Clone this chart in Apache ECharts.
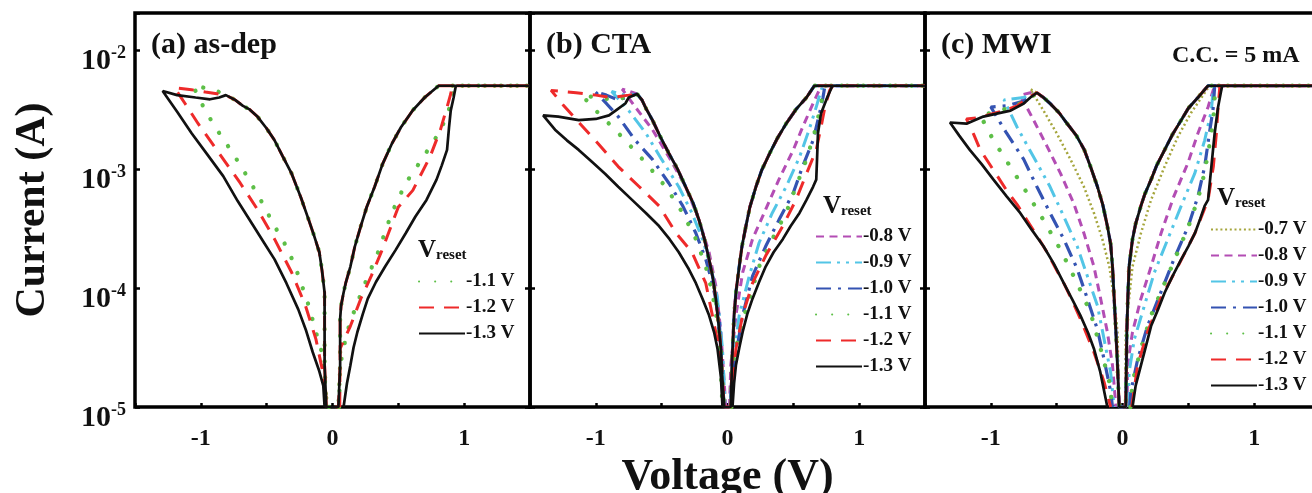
<!DOCTYPE html>
<html>
<head>
<meta charset="utf-8">
<script src="https://cdn.jsdelivr.net/npm/echarts@6/dist/echarts.min.js"></script>
<style>
  html, body { margin: 0; padding: 0; background: #fff; }
  #main { width: 1312px; height: 493px; }
</style>
</head>
<body>
<div id="main"></div>
<script>
// points are [voltage (V), log10 of current (A)]; -2.301 is the 5 mA compliance
var xTicks = [-1, 0, 1]
var yDecades = [-5, -4, -3, -2]

// (a) as-dep : shared low-resistance branches
var asdepLrsRight = [[1.5,-2.301],[0.806,-2.301],[0.70,-2.40],[0.61,-2.507],[0.52,-2.65],[0.45,-2.79],[0.38,-2.96],[0.32,-3.15],[0.26,-3.32],[0.215,-3.48],[0.17,-3.65],[0.136,-3.82],[0.10,-3.96],[0.084,-4.04],[0.065,-4.15],[0.058,-4.26],[0.058,-4.65],[0.045,-5]]
var asdepLrsLeft = [[-0.047,-5],[-0.06,-4.65],[-0.06,-4.04],[-0.08,-3.85],[-0.10,-3.70],[-0.14,-3.56],[-0.18,-3.43],[-0.24,-3.24],[-0.31,-3.04],[-0.38,-2.89],[-0.44,-2.76],[-0.50,-2.66],[-0.57,-2.56],[-0.63,-2.50],[-0.68,-2.47],[-0.74,-2.42],[-0.81,-2.38]]
var asdepRight11 = [[0.05,-5],[0.058,-4.65],[0.11,-4.37],[0.163,-4.2],[0.24,-3.98],[0.346,-3.70],[0.45,-3.37],[0.556,-3.12],[0.66,-2.95],[0.79,-2.73],[0.87,-2.56],[0.91,-2.395],[0.924,-2.301]]
var asdepLeft11 = [[-0.91,-2.33],[-1.06,-2.301],[-0.966,-2.51],[-0.89,-2.65],[-0.756,-2.87],[-0.65,-3.06],[-0.546,-3.26],[-0.44,-3.48],[-0.336,-3.68],[-0.257,-3.90],[-0.18,-4.15],[-0.126,-4.37],[-0.073,-4.57],[-0.047,-4.93],[-0.045,-5]]
var asdepRight12 = [[0.055,-5],[0.058,-4.51],[0.136,-4.32],[0.215,-4.09],[0.294,-3.90],[0.37,-3.70],[0.50,-3.32],[0.61,-3.18],[0.74,-2.90],[0.82,-2.67],[0.87,-2.48],[0.898,-2.37],[0.91,-2.301]]
var asdepLeft12 = [[-0.966,-2.354],[-1.07,-2.335],[-1.2,-2.318],[-1.12,-2.45],[-1.02,-2.62],[-0.86,-2.87],[-0.70,-3.12],[-0.57,-3.34],[-0.44,-3.59],[-0.31,-3.87],[-0.205,-4.15],[-0.126,-4.43],[-0.073,-4.71],[-0.047,-5]]
var asdepRight13 = [[0.084,-5],[0.11,-4.80],[0.136,-4.65],[0.16,-4.50],[0.189,-4.37],[0.23,-4.22],[0.268,-4.09],[0.33,-3.95],[0.40,-3.82],[0.48,-3.68],[0.556,-3.54],[0.63,-3.40],[0.714,-3.26],[0.79,-3.09],[0.83,-2.97],[0.87,-2.84],[0.885,-2.65],[0.898,-2.51],[0.92,-2.40],[0.937,-2.301]]
var asdepLeft13 = [[-0.86,-2.40],[-0.93,-2.415],[-1.04,-2.40],[-1.18,-2.38],[-1.29,-2.345],[-1.18,-2.52],[-1.07,-2.70],[-0.95,-2.88],[-0.83,-3.06],[-0.72,-3.27],[-0.60,-3.48],[-0.52,-3.62],[-0.44,-3.76],[-0.35,-3.96],[-0.26,-4.18],[-0.20,-4.36],[-0.15,-4.54],[-0.10,-4.70],[-0.07,-4.82],[-0.06,-5]]

// (b) CTA
var ctaLrsRight = [[1.5,-2.301],[0.66,-2.301],[0.60,-2.40],[0.52,-2.50],[0.445,-2.62],[0.38,-2.74],[0.32,-2.87],[0.26,-3.01],[0.216,-3.15],[0.17,-3.32],[0.14,-3.48],[0.11,-3.65],[0.089,-3.82],[0.065,-4.03],[0.05,-4.23],[0.035,-4.6],[0.025,-5]]
var ctaLrsLeft = [[-0.025,-5],[-0.04,-4.75],[-0.05,-4.51],[-0.07,-4.28],[-0.089,-4.09],[-0.11,-3.92],[-0.14,-3.76],[-0.175,-3.59],[-0.216,-3.43],[-0.26,-3.29],[-0.318,-3.15],[-0.38,-3.00],[-0.445,-2.87],[-0.51,-2.73],[-0.57,-2.59],[-0.62,-2.49],[-0.65,-2.42],[-0.687,-2.37]]
var ctaRight08 = [[0.015,-5],[0.025,-4.65],[0.064,-4.23],[0.115,-3.87],[0.19,-3.59],[0.29,-3.34],[0.39,-3.09],[0.50,-2.84],[0.57,-2.65],[0.65,-2.45],[0.70,-2.33],[0.71,-2.301]]
var ctaLeft08 = [[-0.74,-2.35],[-0.80,-2.33],[-0.70,-2.48],[-0.57,-2.67],[-0.445,-2.90],[-0.318,-3.15],[-0.216,-3.43],[-0.14,-3.70],[-0.089,-3.98],[-0.05,-4.37],[-0.013,-5]]
var ctaRight09 = [[0.02,-5],[0.038,-4.65],[0.089,-4.23],[0.165,-3.90],[0.24,-3.62],[0.34,-3.37],[0.445,-3.15],[0.547,-2.90],[0.62,-2.67],[0.674,-2.48],[0.71,-2.34],[0.725,-2.301]]
var ctaLeft09 = [[-0.78,-2.38],[-0.88,-2.35],[-0.75,-2.51],[-0.62,-2.70],[-0.50,-2.92],[-0.37,-3.15],[-0.27,-3.37],[-0.19,-3.59],[-0.127,-3.82],[-0.076,-4.09],[-0.038,-4.51],[-0.018,-5]]
var ctaRight10 = [[0.03,-5],[0.05,-4.65],[0.115,-4.23],[0.19,-3.90],[0.29,-3.65],[0.39,-3.43],[0.50,-3.20],[0.57,-2.98],[0.65,-2.76],[0.70,-2.53],[0.725,-2.40],[0.74,-2.301]]
var ctaLeft10 = [[-0.83,-2.42],[-0.92,-2.38],[-1.005,-2.35],[-0.92,-2.45],[-0.83,-2.56],[-0.70,-2.76],[-0.57,-2.92],[-0.445,-3.12],[-0.34,-3.31],[-0.24,-3.54],[-0.165,-3.76],[-0.115,-3.96],[-0.064,-4.23],[-0.033,-5]]
var ctaRight11 = [[0.03,-5],[0.038,-4.65],[0.09,-4.37],[0.165,-4.09],[0.24,-3.82],[0.34,-3.59],[0.445,-3.37],[0.52,-3.15],[0.60,-2.92],[0.66,-2.70],[0.70,-2.51],[0.725,-2.37],[0.74,-2.301]]
var ctaLeft11 = [[-0.85,-2.42],[-1.0,-2.40],[-1.107,-2.38],[-1.0,-2.51],[-0.90,-2.62],[-0.776,-2.76],[-0.62,-2.95],[-0.47,-3.15],[-0.34,-3.37],[-0.24,-3.59],[-0.165,-3.82],[-0.115,-4.04],[-0.064,-4.37],[-0.038,-5]]
var ctaRight12 = [[0.03,-5],[0.064,-4.51],[0.115,-4.23],[0.19,-3.96],[0.29,-3.73],[0.42,-3.48],[0.52,-3.26],[0.60,-3.04],[0.674,-2.84],[0.71,-2.65],[0.74,-2.48],[0.776,-2.34],[0.80,-2.301]]
var ctaLeft12 = [[-0.75,-2.38],[-0.88,-2.40],[-1.0,-2.38],[-1.15,-2.36],[-1.34,-2.34],[-1.25,-2.46],[-1.145,-2.59],[-0.98,-2.79],[-0.83,-2.98],[-0.67,-3.15],[-0.52,-3.31],[-0.39,-3.54],[-0.27,-3.70],[-0.165,-3.96],[-0.115,-4.23],[-0.064,-4.51],[-0.025,-5]]
var ctaRight13 = [[0.038,-5],[0.05,-4.80],[0.064,-4.65],[0.09,-4.50],[0.115,-4.37],[0.15,-4.22],[0.19,-4.09],[0.24,-3.95],[0.29,-3.82],[0.35,-3.70],[0.42,-3.59],[0.48,-3.48],[0.547,-3.37],[0.60,-3.26],[0.65,-3.15],[0.674,-3.09],[0.68,-2.92],[0.687,-2.70],[0.71,-2.535],[0.75,-2.42],[0.79,-2.318],[0.80,-2.301]]
var ctaLeft13 = [[-0.75,-2.40],[-0.776,-2.45],[-0.85,-2.51],[-0.90,-2.55],[-1.0,-2.58],[-1.13,-2.59],[-1.285,-2.56],[-1.40,-2.55],[-1.31,-2.67],[-1.22,-2.76],[-1.13,-2.84],[-1.03,-2.94],[-0.93,-3.04],[-0.83,-3.15],[-0.725,-3.26],[-0.62,-3.37],[-0.52,-3.48],[-0.44,-3.59],[-0.37,-3.70],[-0.30,-3.83],[-0.24,-3.96],[-0.19,-4.09],[-0.14,-4.23],[-0.10,-4.38],[-0.076,-4.51],[-0.05,-4.75],[-0.038,-5]]

// (c) MWI
var mwiLrsRight = [[1.5,-2.301],[0.65,-2.301],[0.573,-2.40],[0.50,-2.49],[0.446,-2.59],[0.38,-2.71],[0.32,-2.84],[0.26,-2.97],[0.217,-3.09],[0.17,-3.21],[0.14,-3.31],[0.10,-3.46],[0.076,-3.59],[0.05,-3.82],[0.04,-4.1],[0.033,-4.37],[0.025,-5]]
var mwiLrsLeft = [[-0.025,-5],[-0.04,-4.6],[-0.05,-4.37],[-0.065,-4.05],[-0.076,-3.82],[-0.09,-3.63],[-0.115,-3.48],[-0.15,-3.30],[-0.19,-3.15],[-0.24,-2.99],[-0.29,-2.84],[-0.35,-2.72],[-0.42,-2.62],[-0.48,-2.53],[-0.55,-2.45],[-0.60,-2.40],[-0.65,-2.36]]
var mwiRight07 = [[0.02,-5],[0.025,-4.37],[0.05,-4.09],[0.076,-3.82],[0.14,-3.54],[0.217,-3.26],[0.32,-2.98],[0.42,-2.73],[0.52,-2.53],[0.60,-2.40],[0.66,-2.301]]
var mwiLeft07 = [[-0.70,-2.33],[-0.60,-2.51],[-0.50,-2.70],[-0.395,-2.92],[-0.293,-3.15],[-0.217,-3.37],[-0.153,-3.59],[-0.10,-3.82],[-0.064,-4.09],[-0.038,-4.37],[-0.025,-5]]
var mwiRight08 = [[0.035,-5],[0.038,-4.65],[0.076,-4.37],[0.14,-4.09],[0.217,-3.82],[0.293,-3.54],[0.39,-3.23],[0.497,-2.95],[0.573,-2.70],[0.65,-2.48],[0.688,-2.34],[0.70,-2.301]]
var mwiLeft08 = [[-0.70,-2.36],[-0.777,-2.38],[-0.675,-2.59],[-0.573,-2.81],[-0.47,-3.04],[-0.37,-3.29],[-0.293,-3.54],[-0.217,-3.82],[-0.166,-4.09],[-0.115,-4.37],[-0.076,-4.65],[-0.05,-5]]
var mwiRight09 = [[0.045,-5],[0.05,-4.71],[0.09,-4.43],[0.166,-4.15],[0.242,-3.87],[0.344,-3.59],[0.446,-3.31],[0.548,-3.04],[0.624,-2.76],[0.675,-2.51],[0.688,-2.34],[0.696,-2.301]]
var mwiLeft09 = [[-0.75,-2.40],[-0.90,-2.42],[-0.80,-2.65],[-0.675,-2.90],[-0.55,-3.15],[-0.446,-3.40],[-0.344,-3.65],[-0.267,-3.90],[-0.19,-4.15],[-0.14,-4.43],[-0.09,-4.71],[-0.064,-5]]
var mwiRight10 = [[0.055,-5],[0.064,-4.87],[0.115,-4.60],[0.19,-4.32],[0.29,-4.04],[0.39,-3.76],[0.50,-3.48],[0.573,-3.23],[0.624,-2.98],[0.66,-2.70],[0.69,-2.48],[0.70,-2.301]]
var mwiLeft10 = [[-0.75,-2.43],[-0.88,-2.47],[-1.0,-2.48],[-0.88,-2.70],[-0.75,-2.92],[-0.65,-3.15],[-0.55,-3.37],[-0.446,-3.59],[-0.344,-3.84],[-0.267,-4.09],[-0.19,-4.35],[-0.14,-4.60],[-0.09,-4.87],[-0.076,-5]]
var mwiRight11 = [[0.06,-5],[0.076,-4.79],[0.14,-4.51],[0.217,-4.23],[0.32,-3.96],[0.42,-3.70],[0.52,-3.43],[0.60,-3.15],[0.65,-2.87],[0.69,-2.59],[0.70,-2.40],[0.706,-2.301]]
var mwiLeft11 = [[-0.75,-2.44],[-0.90,-2.50],[-1.0,-2.53],[-1.08,-2.55],[-0.98,-2.76],[-0.853,-2.98],[-0.726,-3.20],[-0.60,-3.43],[-0.47,-3.68],[-0.344,-3.96],[-0.242,-4.21],[-0.166,-4.51],[-0.10,-4.79],[-0.076,-5]]
var mwiRight12 = [[0.07,-5],[0.115,-4.65],[0.19,-4.37],[0.29,-4.09],[0.42,-3.82],[0.55,-3.54],[0.65,-3.26],[0.69,-2.98],[0.713,-2.70],[0.726,-2.48],[0.74,-2.301]]
var mwiLeft12 = [[-0.70,-2.39],[-0.80,-2.47],[-0.90,-2.51],[-1.0,-2.54],[-1.10,-2.57],[-1.185,-2.58],[-1.13,-2.71],[-1.08,-2.84],[-0.98,-3.01],[-0.88,-3.18],[-0.80,-3.30],[-0.726,-3.43],[-0.65,-3.56],[-0.573,-3.70],[-0.51,-3.83],[-0.446,-3.96],[-0.38,-4.11],[-0.32,-4.26],[-0.217,-4.54],[-0.14,-4.79],[-0.09,-5]]
var mwiRight13 = [[0.076,-5],[0.10,-4.82],[0.14,-4.65],[0.18,-4.48],[0.217,-4.32],[0.27,-4.18],[0.32,-4.04],[0.38,-3.90],[0.446,-3.76],[0.50,-3.65],[0.55,-3.54],[0.59,-3.42],[0.624,-3.31],[0.65,-3.26],[0.675,-2.98],[0.70,-2.70],[0.726,-2.48],[0.75,-2.34],[0.757,-2.301]]
var mwiLeft13 = [[-0.70,-2.40],[-0.75,-2.45],[-0.85,-2.51],[-0.955,-2.535],[-1.057,-2.56],[-1.185,-2.62],[-1.31,-2.61],[-1.24,-2.72],[-1.16,-2.84],[-1.07,-2.96],[-0.98,-3.09],[-0.88,-3.23],[-0.777,-3.37],[-0.69,-3.51],[-0.60,-3.65],[-0.52,-3.80],[-0.446,-3.96],[-0.38,-4.10],[-0.32,-4.23],[-0.26,-4.38],[-0.217,-4.51],[-0.17,-4.70],[-0.115,-5]]

var font = 'Liberation Serif'

// line look for each reset voltage
var styles = {
  '-0.7 V': { color: '#a5a53c', width: 2.5, type: [2, 2.7] },
  '-0.8 V': { color: '#b34db4', width: 3, type: [8, 5.5] },
  '-0.9 V': { color: '#52c5e6', width: 3, type: [15, 6, 3, 6, 3, 6] },
  '-1.0 V': { color: '#3453b2', width: 3.2, type: [15, 7, 3, 7] },
  '-1.1 V': { color: '#5dbf47', width: 4.3, type: [0.1, 16], cap: 'round' },
  '-1.2 V': { color: '#ee2a2a', width: 3, type: [15, 10] },
  '-1.3 V': { color: '#111', width: 2.7, type: 'solid' }
}

var panels = [
  { title: '(a) as-dep', lrsR: asdepLrsRight, lrsL: asdepLrsLeft, loops: [
    ['-1.1 V', asdepRight11, asdepLeft11], ['-1.2 V', asdepRight12, asdepLeft12], ['-1.3 V', asdepRight13, asdepLeft13]] },
  { title: '(b) CTA', lrsR: ctaLrsRight, lrsL: ctaLrsLeft, loops: [
    ['-0.8 V', ctaRight08, ctaLeft08], ['-0.9 V', ctaRight09, ctaLeft09], ['-1.0 V', ctaRight10, ctaLeft10],
    ['-1.1 V', ctaRight11, ctaLeft11], ['-1.2 V', ctaRight12, ctaLeft12], ['-1.3 V', ctaRight13, ctaLeft13]] },
  { title: '(c) MWI', lrsR: mwiLrsRight, lrsL: mwiLrsLeft, loops: [
    ['-0.7 V', mwiRight07, mwiLeft07], ['-0.8 V', mwiRight08, mwiLeft08], ['-0.9 V', mwiRight09, mwiLeft09],
    ['-1.0 V', mwiRight10, mwiLeft10], ['-1.1 V', mwiRight11, mwiLeft11], ['-1.2 V', mwiRight12, mwiLeft12],
    ['-1.3 V', mwiRight13, mwiLeft13]] }
]

var gridLeft = [135, 530, 925]
var legendPos = [[418, 272], [815, 227], [1210, 220]]
var vresetPos = [[418, 238], [823, 194], [1217, 186]]

var chart = echarts.init(document.getElementById('main'), null, { renderer: 'canvas' })

var grids = [], xAxes = [], yAxes = [], series = [], legends = [], titles = []

panels.forEach(function (p, i) {
  grids.push({ left: gridLeft[i], top: 13, width: 395, height: 394, show: true,
    outerBoundsMode: 'none', containLabel: false,
    borderColor: '#000', borderWidth: 3.5, backgroundColor: 'transparent' })

  xAxes.push({
    gridIndex: i, type: 'value', min: -1.5, max: 1.5, interval: 0.5,
    axisLine: { show: false, onZero: false }, splitLine: { show: false },
    axisTick: { inside: true, length: 4, lineStyle: { color: '#000', width: 2.5 } },
    axisLabel: { margin: 20, fontFamily: font, fontWeight: 'bold', fontSize: 24, color: '#111',
      formatter: function (v) { return xTicks.indexOf(v) >= 0 ? String(v) : '' } },
    name: i === 1 ? 'Voltage (V)' : '', nameLocation: 'middle', nameGap: 48,
    nameTextStyle: { fontFamily: font, fontWeight: 'bold', fontSize: 44, color: '#111' }
  })

  var yBase = {
    gridIndex: i, type: 'value', min: -5, max: -1.69, interval: 1,
    axisLine: { show: false, onZero: false }, splitLine: { show: false },
    axisTick: { inside: true, length: 5, lineStyle: { color: '#000', width: 2.5 } }
  }
  yAxes.push(Object.assign({}, yBase, {
    position: 'left',
    axisLabel: { show: i === 0, margin: 9, color: '#111', padding: [22, 0, 0, 0],
      formatter: function (v) { return yDecades.indexOf(v) >= 0 ? '{b|10}{s|' + v + '}' : '' },
      rich: {
        b: { fontFamily: font, fontWeight: 'bold', fontSize: 30, color: '#111' },
        s: { fontFamily: font, fontWeight: 'bold', fontSize: 18, color: '#111', padding: [0, 0, 16, 0] }
      } },
    name: i === 0 ? 'Current (A)' : '', nameLocation: 'middle', nameGap: 81,
    nameTextStyle: { fontFamily: font, fontWeight: 'bold', fontSize: 42, color: '#111' }
  }))
  yAxes.push(Object.assign({}, yBase, { position: 'right', axisLabel: { show: false } }))

  p.loops.forEach(function (l) {
    var s = styles[l[0]]
    series.push({
      type: 'line', name: l[0], xAxisIndex: i, yAxisIndex: i * 2,
      data: l[1].concat(p.lrsR, p.lrsL, l[2]),
      symbol: 'none', showSymbol: false, silent: true, animation: false,
      lineStyle: { color: s.color, width: s.width, type: s.type, cap: s.cap || 'butt' },
      itemStyle: { color: s.color }
    })
  })

  legends.push({
    left: legendPos[i][0], top: legendPos[i][1], orient: 'vertical', padding: 0,
    itemWidth: 46, itemHeight: 14, itemGap: 7, selectedMode: false,
    data: p.loops.map(function (l) { return l[0] }),
    itemStyle: { opacity: 0 },
    textStyle: { fontFamily: font, fontWeight: 'bold', fontSize: 19, lineHeight: 19, color: '#111', padding: [0, 0, 0, -4] }
  })

  titles.push({ text: p.title, left: gridLeft[i] + 16, top: 30, padding: 0,
    textStyle: { fontFamily: font, fontWeight: 'bold', fontSize: 30, color: '#111' } })
  titles.push({ text: '{v|V}{r|reset}', left: vresetPos[i][0], top: vresetPos[i][1], padding: 0,
    textStyle: { rich: {
      v: { fontFamily: font, fontWeight: 'bold', fontSize: 25, color: '#111' },
      r: { fontFamily: font, fontWeight: 'bold', fontSize: 15, color: '#111', padding: [10, 0, 0, 0] }
    } } })
})

titles.push({ text: 'C.C. = 5 mA', left: 1172, top: 44, padding: 0,
  textStyle: { fontFamily: font, fontWeight: 'bold', fontSize: 24, color: '#111' } })

chart.setOption({
  backgroundColor: '#fff',
  animation: false,
  title: titles,
  legend: legends,
  grid: grids,
  xAxis: xAxes,
  yAxis: yAxes,
  series: series
})
</script>
</body>
</html>
